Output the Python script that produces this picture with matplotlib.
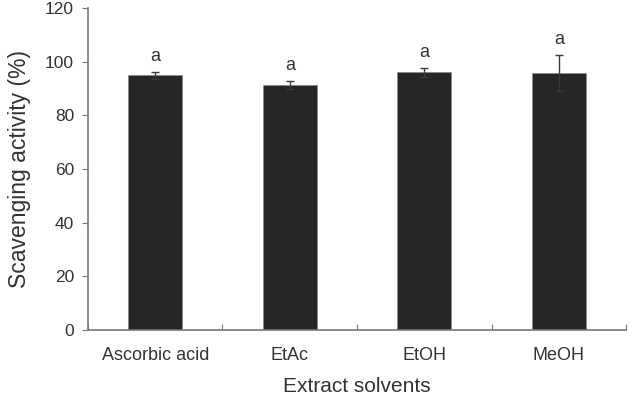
import matplotlib
matplotlib.use('Agg')
import matplotlib.pyplot as plt
import numpy as np

plt.rcParams['font.family'] = ['Liberation Sans', 'DejaVu Sans']

solvents = ['Ascorbic acid', 'EtAc', 'EtOH', 'MeOH']
activity = [95.0, 91.4, 96.1, 95.8]
errors = [1.3, 1.4, 1.7, 6.7]
letters = ['a', 'a', 'a', 'a']

fig = plt.figure(figsize=(6.39, 3.97), dpi=100)
ax = fig.add_axes([0.1377, 0.1688, 0.842, 0.811])

x = np.arange(len(solvents))
ax.bar(x, activity, width=0.4, color='#262626', edgecolor='#8a8a8a', linewidth=0.6, zorder=2)
ax.errorbar(x, activity, yerr=errors, fmt='none', ecolor='#3a3a3a', elinewidth=1.0,
            capsize=3, capthick=1.0, zorder=3)

for xi, v, e, lab in zip(x, activity, errors, letters):
    ax.text(xi, v + e + 2.5, lab, ha='center', va='bottom', fontsize=13, color='#333333')

ax.set_xlim(-0.5, len(solvents) - 0.5)
ax.set_ylim(0, 120)
ax.set_yticks(np.arange(0, 121, 20))

# category ticks at the boundaries, labels centered
ax.set_xticks(np.arange(len(solvents) + 1) - 0.5)
ax.set_xticklabels([])
ax.set_xticks(x, minor=True)
ax.set_xticklabels(solvents, minor=True)
ax.tick_params(axis='x', which='major', direction='in', length=4, color='#777777')
ax.tick_params(axis='x', which='minor', length=0, pad=12, labelsize=13, labelcolor='#333333')
ax.tick_params(axis='y', direction='out', length=4, color='#777777', labelsize=12.5,
               labelcolor='#333333', pad=6)

for s in ['top', 'right']:
    ax.spines[s].set_visible(False)
for s in ['left', 'bottom']:
    ax.spines[s].set_color('#777777')
    ax.spines[s].set_linewidth(1.2)

ax.set_ylabel('Scavenging activity (%)', fontsize=16.5, color='#333333', labelpad=10)
fig.text(0.5 * (0.1377 + 0.9797), 0.003, 'Extract solvents', ha='center', va='bottom',
         fontsize=15, color='#333333')

plt.savefig('out.png', dpi=100)
